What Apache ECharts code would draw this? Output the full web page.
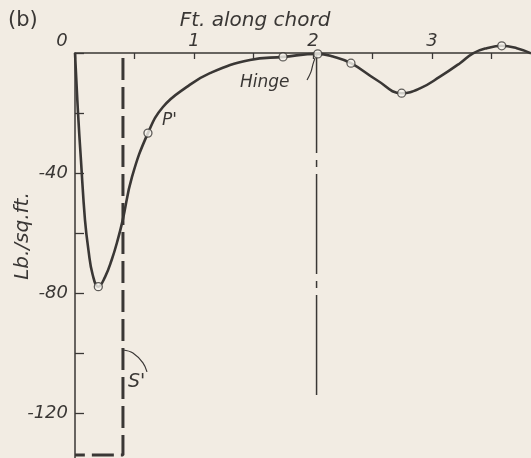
<!DOCTYPE html>
<html>
<head>
<meta charset="utf-8">
<script src="https://cdn.jsdelivr.net/npm/echarts@6/dist/echarts.min.js"></script>
<style>
html, body { margin: 0; padding: 0; background: #f2ece3; }
#chart { width: 531px; height: 458px; }
</style>
</head>
<body>
<div id="chart"></div>
<script>
// pressure curve: ft along chord / lb per sq ft
var curveFt  = [0, 0.025, 0.05, 0.084, 0.113, 0.149, 0.196, 0.252, 0.308, 0.359, 0.401, 0.479, 0.613, 0.739, 0.94, 1.134, 1.47, 1.748, 2.04, 2.168, 2.319, 2.535, 2.745, 2.899, 3.067, 3.235, 3.345, 3.46, 3.586, 3.712, 3.832];
var curvePsf = [0, -19.7, -35.7, -55.7, -65.7, -74, -77.9, -74.7, -69, -62.3, -55.7, -41.3, -26.7, -18, -11.3, -6.7, -2.3, -1.3, -0.3, -1.2, -3.4, -9, -13.4, -11.8, -7.9, -3.4, -0.1, 1.6, 2.4, 1.6, -0.1];

// measured points (open circles)
var markFt  = [0.196, 0.613, 1.748, 2.04, 2.319, 2.745, 3.586];
var markPsf = [-77.9, -26.7, -1.3, -0.3, -3.4, -13.4, 2.4];

// hinge line and S' line
var hingeFt = [2.03, 2.03];
var hingePsf = [0, -115];
var sPrimeFt = [0.403, 0.403, 0];
var sPrimePsf = [-1.7, -134, -134];

// leader squiggles
var hingeLeadFt = [1.95, 1.983, 2.0, 2.017];
var hingeLeadPsf = [-9, -6.3, -3.7, -1.7];
var sLeadFt = [0.403, 0.487, 0.571, 0.605];
var sLeadPsf = [-99, -100, -103.3, -106.3];

var xLabels = [0, 1, 2, 3];
var yLabels = [-40, -80, -120];

var ink = '#3a3735';
var paper = '#f2ece3';
var font = '"DejaVu Sans", sans-serif';

function pairs(xs, ys) {
    return xs.map(function (x, i) { return [x, ys[i]]; });
}

var chart = echarts.init(document.getElementById('chart'));

chart.setOption({
    backgroundColor: paper,
    animation: false,
    grid: { left: 75, top: 53, width: 456, height: 420, outerBoundsMode: 'none', containLabel: false },
    xAxis: {
        type: 'value',
        position: 'top',
        min: 0,
        max: 3.832,
        interval: 0.5,
        axisLine: { lineStyle: { color: ink, width: 1.5 } },
        axisTick: { inside: true, length: 6, lineStyle: { color: ink, width: 1.3 } },
        axisLabel: {
            color: ink, fontSize: 18, fontStyle: 'italic', fontFamily: font, margin: 3,
            showMaxLabel: false,
            formatter: function (v) {
                if (xLabels.indexOf(v) < 0) return '';
                return v === 0 ? '{z|0}' : String(v);
            },
            rich: { z: { padding: [0, 26, 0, 0], fontSize: 18, fontStyle: 'italic', fontFamily: font, color: ink } }
        },
        splitLine: { show: false }
    },
    yAxis: {
        type: 'value',
        min: -140,
        max: 0,
        interval: 20,
        axisLine: { onZero: false, lineStyle: { color: ink, width: 1.5 } },
        axisTick: { inside: true, length: 9, lineStyle: { color: ink, width: 1.3 } },
        axisLabel: {
            color: ink, fontSize: 18, fontStyle: 'italic', fontFamily: font, margin: 7,
            formatter: function (v) { return yLabels.indexOf(v) < 0 ? '' : String(v); }
        },
        splitLine: { show: false }
    },
    graphic: [
        { type: 'text', left: 8, top: 10, style: { text: '(b)', font: '21px ' + font, fill: ink } },
        { type: 'text', x: 255, y: 21, style: { text: 'Ft. along chord', font: 'italic 20px ' + font, fill: ink, align: 'center', verticalAlign: 'middle' } },
        { type: 'text', x: 23, y: 236, rotation: Math.PI / 2, style: { text: 'Lb./sq.ft.', font: 'italic 20px ' + font, fill: ink, align: 'center', verticalAlign: 'middle' } },
        { type: 'text', left: 162, top: 112, style: { text: "P'", font: 'italic 17px ' + font, fill: ink } },
        { type: 'text', left: 240, top: 74, style: { text: 'Hinge', font: 'italic 17px ' + font, fill: ink } },
        { type: 'text', left: 128, top: 373, style: { text: "S'", font: 'italic 19px ' + font, fill: ink } }
    ],
    series: [
        {
            type: 'line',
            data: pairs(sPrimeFt, sPrimePsf),
            symbol: 'none',
            lineStyle: { color: ink, width: 3, type: [22, 7] },
            z: 1
        },
        {
            type: 'line',
            data: pairs(hingeFt, hingePsf),
            symbol: 'none',
            lineStyle: { color: ink, width: 1.5, type: [100, 7, 7, 7] },
            z: 1
        },
        {
            type: 'line',
            data: pairs(hingeLeadFt, hingeLeadPsf),
            symbol: 'none',
            smooth: 0.4,
            lineStyle: { color: ink, width: 1.2 },
            z: 1
        },
        {
            type: 'line',
            data: pairs(sLeadFt, sLeadPsf),
            symbol: 'none',
            smooth: 0.4,
            lineStyle: { color: ink, width: 1.2 },
            z: 1
        },
        {
            type: 'line',
            data: pairs(curveFt, curvePsf),
            symbol: 'none',
            smooth: 0.45,
            clip: false,
            lineStyle: { color: ink, width: 2.6 },
            z: 2
        },
        {
            type: 'scatter',
            data: pairs(markFt, markPsf),
            symbol: 'circle',
            symbolSize: 8,
            clip: false,
            itemStyle: { color: '#f8f5ef', borderColor: ink, borderWidth: 1.3 },
            z: 3
        }
    ]
});
</script>
</body>
</html>
